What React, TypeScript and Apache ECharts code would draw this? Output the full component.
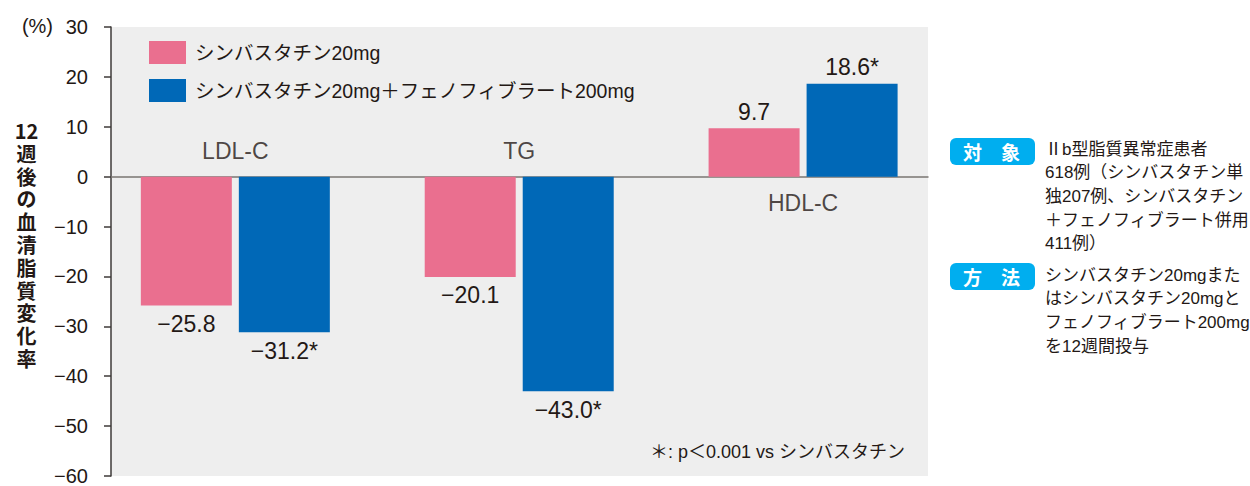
import React, { useEffect, useRef } from "react";
import * as echarts from "echarts";

const categories = ["LDL-C", "TG", "HDL-C"];
const seriesNames = [
  "シンバスタチン20mg",
  "シンバスタチン20mg＋フェノフィブラート200mg",
];
const simvaValues = [-25.8, -20.1, 9.7];
const comboValues = [-31.2, -43.0, 18.6];
const simvaSignificant = [false, false, false];
const comboSignificant = [true, true, true];
const yMin = -60;
const yMax = 30;
const yInterval = 10;
const yUnit = "(%)";
const yTitleChars = ["12", "週", "後", "の", "血", "清", "脂", "質", "変", "化", "率"];
const footnote = "＊: p＜0.001 vs シンバスタチン";
const subjectBadge = "対　象";
const subjectLines = [
  "Ⅱb型脂質異常症患者",
  "618例（シンバスタチン単",
  "独207例、シンバスタチン",
  "＋フェノフィブラート併用",
  "411例）",
];
const methodBadge = "方　法";
const methodLines = [
  "シンバスタチン20mgまた",
  "はシンバスタチン20mgと",
  "フェノフィブラート200mg",
  "を12週間投与",
];

const PINK = "#EA6F8F";
const BLUE = "#0068B7";
const TEXT = "#231815";
const CYAN = "#00AEEF";
const FONT = "'Liberation Sans', 'Noto Sans CJK JP', sans-serif";
const JFONT = "'Noto Sans CJK JP', 'Liberation Sans', sans-serif";

const fmt = (v: number, sig: boolean) =>
  (v < 0 ? "\u2212" + Math.abs(v).toFixed(1) : v.toFixed(1)) + (sig ? "*" : "");

const barData = (vals: number[], sig: boolean[]) =>
  vals.map((v, i) => ({
    value: [i, v],
    label: {
      position: v < 0 ? "bottom" : "top",
      distance: v < 0 ? 7 : 5,
      formatter: fmt(v, sig[i]),
    },
  }));

export default function App() {
  const ref = useRef<HTMLDivElement>(null);
  useEffect(() => {
    if (!ref.current) return;
    const chart = echarts.init(ref.current, undefined, { renderer: "svg" });
    const labelStyle = { show: true, fontSize: 23, color: TEXT, fontFamily: FONT };
    const graphics: any[] = [
      {
        type: "text",
        x: 53,
        y: 26,
        style: { text: yUnit, fontSize: 20, fontFamily: FONT, fill: TEXT, align: "right", verticalAlign: "middle", textAlign: "right", textVerticalAlign: "middle" },
      },
      {
        type: "text",
        x: 26.5,
        y: 119,
        style: {
          text: yTitleChars.join("\n"),
          fontSize: 20,
          lineHeight: 22.8,
          fontWeight: "bold",
          fontFamily: JFONT,
          fill: TEXT,
          align: "center",
          verticalAlign: "top",
          textAlign: "center",
          textVerticalAlign: "top",
        },
      },
      {
        type: "text",
        x: 905,
        y: 452,
        style: { text: footnote, fontSize: 18, fontFamily: FONT, fill: TEXT, align: "right", verticalAlign: "middle", textAlign: "right", textVerticalAlign: "middle" },
      },
    ];
    const addBlock = (badge: string, lines: string[], top: number, firstY: number) => {
      graphics.push({
        type: "rect",
        shape: { x: 950, y: top, width: 85, height: 27, r: 6 },
        style: { fill: CYAN },
      });
      graphics.push({
        type: "text",
        x: 991.5,
        y: top + 13.5,
        style: { text: badge, fontSize: 19, fontWeight: "bold", fontFamily: JFONT, fill: "#ffffff", align: "center", verticalAlign: "middle", textAlign: "center", textVerticalAlign: "middle" },
      });
      lines.forEach((l, i) => {
        graphics.push({
          type: "text",
          x: 1045,
          y: firstY + i * 23.7,
          style: { text: l, fontSize: 17, fontFamily: FONT, fill: TEXT, align: "left", verticalAlign: "middle", textAlign: "left", textVerticalAlign: "middle" },
        });
      });
    };
    addBlock(subjectBadge, subjectLines, 138, 149);
    addBlock(methodBadge, methodLines, 263, 275);

    chart.setOption({
      animation: false,
      textStyle: { fontFamily: FONT, color: TEXT },
      grid: {
        left: 111,
        right: 322,
        top: 27,
        bottom: 8,
        show: true,
        backgroundColor: "#EEEEEE",
        borderWidth: 0,
      },
      legend: {
        data: seriesNames,
        orient: "vertical",
        left: 144,
        top: 36,
        itemWidth: 37,
        itemHeight: 23,
        itemGap: 15,
        icon: "rect",
        textStyle: { fontSize: 19.5, color: TEXT, fontFamily: FONT, padding: [0, 0, 0, 4] },
      },
      xAxis: {
        type: "value",
        min: -0.438,
        max: 2.44,
        axisLine: { show: true, onZero: true, lineStyle: { color: "#7A7672", width: 1.5 } },
        axisTick: { show: false },
        axisLabel: { show: false },
        splitLine: { show: false },
      },
      yAxis: {
        type: "value",
        min: yMin,
        max: yMax,
        interval: yInterval,
        axisLine: { show: true, onZero: false, lineStyle: { color: "#3E3A39", width: 1.5 } },
        axisTick: { show: true, length: 7, lineStyle: { color: "#3E3A39", width: 1.5 } },
        axisLabel: {
          fontSize: 20,
          color: TEXT,
          margin: 23,
          formatter: (v: number) => (v < 0 ? "\u2212" + Math.abs(v) : String(v)),
        },
        splitLine: { show: false },
      },
      series: [
        {
          name: seriesNames[0],
          type: "bar",
          barWidth: 91,
          barGap: "7.7%",
          itemStyle: { color: PINK },
          label: labelStyle,
          data: barData(simvaValues, simvaSignificant),
        },
        {
          name: seriesNames[1],
          type: "bar",
          barWidth: 91,
          barGap: "7.7%",
          itemStyle: { color: BLUE },
          label: labelStyle,
          data: barData(comboValues, comboSignificant),
        },
        {
          name: "categories",
          type: "scatter",
          symbolSize: 0,
          silent: true,
          z: 5,
          label: { show: true, position: "inside", formatter: "{b}", fontSize: 23, color: TEXT, fontFamily: FONT },
          data: categories.map((c, i) => ({
            name: c,
            value: [i, 0],
            label: { offset: [0, simvaValues[i] < 0 ? -26 : 26] },
          })),
        },
      ],
      graphic: graphics,
    });
    return () => chart.dispose();
  }, []);
  return (
    <div
      ref={ref}
      style={{ position: "fixed", left: 0, top: 0, width: 1250, height: 486, background: "#ffffff" }}
    />
  );
}
